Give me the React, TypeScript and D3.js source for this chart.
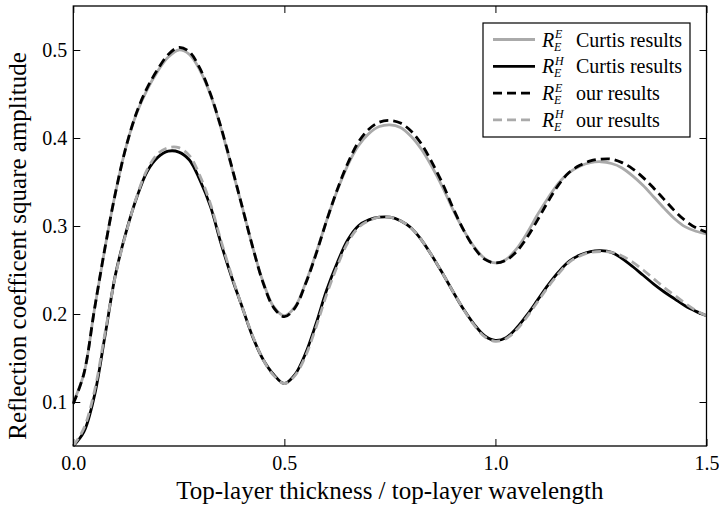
import React, { useEffect, useRef } from "react";
import * as d3 from "d3";

// DATA
const thickness = [
  0, 0.025, 0.05, 0.075, 0.1, 0.125, 0.15, 0.175, 0.2, 0.225, 0.25, 0.275, 0.3,
  0.325, 0.35, 0.375, 0.4, 0.425, 0.45, 0.475, 0.5, 0.525, 0.55, 0.575, 0.6,
  0.625, 0.65, 0.675, 0.7, 0.725, 0.75, 0.775, 0.8, 0.825, 0.85, 0.875, 0.9,
  0.925, 0.95, 0.975, 1.0, 1.025, 1.05, 1.075, 1.1, 1.125, 1.15, 1.175, 1.2,
  1.225, 1.25, 1.275, 1.3, 1.325, 1.35, 1.375, 1.4, 1.425, 1.45, 1.475, 1.5,
];

const curtisE = [
  0.1, 0.132, 0.205, 0.275, 0.338, 0.39, 0.428, 0.455, 0.476, 0.492, 0.5, 0.495,
  0.477, 0.449, 0.411, 0.367, 0.322, 0.276, 0.236, 0.208, 0.198, 0.208, 0.235,
  0.269, 0.306, 0.34, 0.369, 0.391, 0.405, 0.413, 0.415, 0.412, 0.402, 0.387,
  0.367, 0.344, 0.318, 0.295, 0.276, 0.263, 0.258, 0.262, 0.274, 0.292, 0.313,
  0.332, 0.349, 0.361, 0.368, 0.372, 0.373, 0.371, 0.366, 0.357, 0.346, 0.333,
  0.32, 0.308, 0.299, 0.294, 0.291,
];

const curtisH = [
  0.05, 0.066, 0.107, 0.175, 0.245, 0.293, 0.332, 0.362, 0.378, 0.385, 0.384,
  0.375, 0.352, 0.322, 0.28, 0.242, 0.208, 0.174, 0.148, 0.131, 0.121, 0.131,
  0.155, 0.189, 0.227, 0.258, 0.284, 0.3, 0.307, 0.31, 0.31, 0.306, 0.298,
  0.284, 0.266, 0.246, 0.225, 0.205, 0.188, 0.175, 0.17, 0.173, 0.184, 0.199,
  0.216, 0.233, 0.248, 0.26, 0.267, 0.271, 0.272, 0.27, 0.263, 0.254, 0.244,
  0.234, 0.225, 0.217, 0.209, 0.203, 0.198,
];

const oursE = [
  0.098, 0.132, 0.205, 0.275, 0.338, 0.39, 0.429, 0.457, 0.478, 0.495, 0.503,
  0.498, 0.479, 0.45, 0.412, 0.368, 0.322, 0.276, 0.235, 0.207, 0.197, 0.207,
  0.234, 0.268, 0.306, 0.341, 0.371, 0.395, 0.41, 0.418, 0.42, 0.417, 0.408,
  0.393, 0.372, 0.348, 0.32, 0.295, 0.275, 0.262, 0.258, 0.261, 0.271, 0.287,
  0.307, 0.328, 0.347, 0.361, 0.369, 0.374, 0.376, 0.376, 0.372, 0.365, 0.355,
  0.343, 0.33, 0.317, 0.306, 0.298, 0.293,
];

const oursH = [
  0.05, 0.07, 0.112, 0.178, 0.244, 0.292, 0.333, 0.364, 0.382, 0.389, 0.389,
  0.38, 0.357, 0.325, 0.283, 0.244, 0.208, 0.175, 0.148, 0.13, 0.121, 0.13,
  0.152, 0.185, 0.222, 0.254, 0.281, 0.298, 0.306, 0.31, 0.31, 0.306, 0.298,
  0.284, 0.266, 0.246, 0.225, 0.205, 0.187, 0.174, 0.169, 0.172, 0.182, 0.197,
  0.214, 0.231, 0.246, 0.259, 0.266, 0.27, 0.271, 0.27, 0.266, 0.259, 0.25,
  0.24, 0.23, 0.221, 0.212, 0.204, 0.198,
];

const xTicks = [0, 0.5, 1.0, 1.5];
const yTicks = [0.1, 0.2, 0.3, 0.4, 0.5];
const legendSup = ["E", "H", "E", "H"];
const legendText = ["Curtis results", "Curtis results", "our results", "our results"];

const FONT = "Liberation Serif, Times New Roman, serif";
const GRAY = "#aaaaaa";

export default function App() {
  const ref = useRef<SVGSVGElement>(null);

  useEffect(() => {
    const svg = d3.select(ref.current);
    svg.selectAll("*").remove();

    // PLOT AREA
    const left = 73.3;
    const right = 706.5;
    const top = 6;
    const bottom = 446;

    const x = d3.scaleLinear().domain([0, 1.5]).range([left, right]);
    const y = d3.scaleLinear().domain([0.05, 0.55]).range([bottom, top]);

    const series = [
      { values: curtisE, color: GRAY, dash: null },
      { values: curtisH, color: "#000", dash: null },
      { values: oursE, color: "#000", dash: "9,5" },
      { values: oursH, color: GRAY, dash: "9,5" },
    ];

    // AXES (ticks point inward on all four sides)
    const styleAxis = (g: any) => {
      g.select(".domain").remove();
      g.attr("font-size", null).attr("font-family", null);
      g.selectAll("text").attr("fill", "#000").style("font-size", "20px");
      g.selectAll("line").attr("stroke", "#000");
    };

    svg
      .append("g")
      .attr("transform", `translate(0,${bottom})`)
      .call(
        d3
          .axisBottom(x)
          .tickValues(xTicks)
          .tickFormat(d3.format(".1f") as any)
          .tickSizeInner(-7)
          .tickSizeOuter(0)
          .tickPadding(10)
      )
      .call(styleAxis);

    svg
      .append("g")
      .attr("transform", `translate(0,${top})`)
      .call(d3.axisTop(x).tickValues(xTicks).tickFormat(() => "").tickSizeInner(-7).tickSizeOuter(0))
      .call(styleAxis);

    svg
      .append("g")
      .attr("transform", `translate(${left},0)`)
      .call(
        d3
          .axisLeft(y)
          .tickValues(yTicks)
          .tickFormat(d3.format(".1f") as any)
          .tickSizeInner(-7)
          .tickSizeOuter(0)
          .tickPadding(6)
      )
      .call(styleAxis);

    svg
      .append("g")
      .attr("transform", `translate(${right},0)`)
      .call(d3.axisRight(y).tickValues(yTicks).tickFormat(() => "").tickSizeInner(-7).tickSizeOuter(0))
      .call(styleAxis);

    // LINES
    const line = d3
      .line<number>()
      .x((d, i) => x(thickness[i]))
      .y((d) => y(d))
      .curve(d3.curveCatmullRom.alpha(0.5));

    series.forEach((s) => {
      svg
        .append("path")
        .datum(s.values)
        .attr("fill", "none")
        .attr("stroke", s.color)
        .attr("stroke-width", 2.8)
        .attr("stroke-dasharray", s.dash)
        .attr("d", line);
    });

    // FRAME
    svg
      .append("rect")
      .attr("x", left)
      .attr("y", top)
      .attr("width", right - left)
      .attr("height", bottom - top)
      .attr("fill", "none")
      .attr("stroke", "#000")
      .attr("stroke-width", 1.3);

    // AXIS TITLES
    svg
      .append("text")
      .attr("x", (left + right) / 2)
      .attr("y", 499)
      .attr("text-anchor", "middle")
      .style("font-size", "25px")
      .text("Top-layer thickness / top-layer wavelength");

    svg
      .append("text")
      .attr("transform", `translate(26,${(top + bottom) / 2 + 20}) rotate(-90)`)
      .attr("text-anchor", "middle")
      .style("font-size", "25px")
      .text("Reflection coefficent square amplitude");

    // LEGEND
    const legend = svg.append("g");
    legend
      .append("rect")
      .attr("x", 483)
      .attr("y", 23)
      .attr("width", 207)
      .attr("height", 114)
      .attr("fill", "#fff")
      .attr("stroke", "#000")
      .attr("stroke-width", 1.2);

    series.forEach((s, i) => {
      const ly = 39.5 + i * 26.8;
      legend
        .append("line")
        .attr("x1", 493)
        .attr("x2", 535)
        .attr("y1", ly)
        .attr("y2", ly)
        .attr("stroke", s.color)
        .attr("stroke-width", 2.8)
        .attr("stroke-dasharray", s.dash);

      legend
        .append("text")
        .attr("x", 542)
        .attr("y", ly + 7)
        .style("font-size", "20px")
        .style("font-style", "italic")
        .text("R");
      legend
        .append("text")
        .attr("x", 555)
        .attr("y", ly - 1.5)
        .style("font-size", "12px")
        .style("font-style", "italic")
        .text(legendSup[i]);
      legend
        .append("text")
        .attr("x", 554)
        .attr("y", ly + 11)
        .style("font-size", "12px")
        .style("font-style", "italic")
        .text("E");
      legend
        .append("text")
        .attr("x", 576)
        .attr("y", ly + 7)
        .style("font-size", "20px")
        .text(legendText[i]);
    });
  }, []);

  return (
    <svg
      ref={ref}
      width={719}
      height={509}
      style={{
        position: "absolute",
        left: 0,
        top: 0,
        background: "#fff",
        fontFamily: FONT,
      }}
    />
  );
}
